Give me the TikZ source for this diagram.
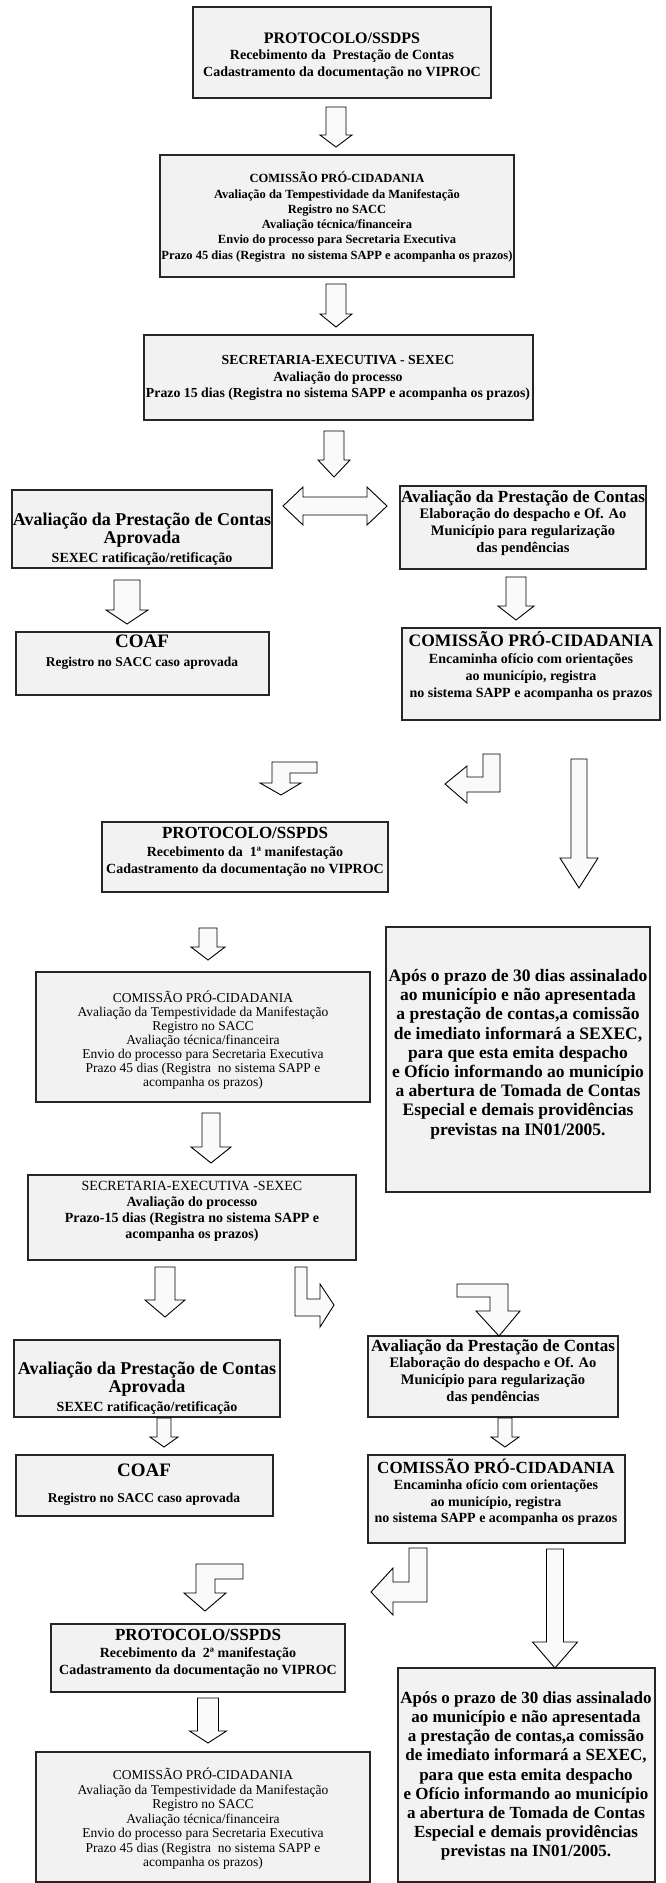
\documentclass[tikz,border=0pt]{standalone}
\usepackage{fontspec}
\setmainfont{Liberation Serif}
\newcommand\mybox[5]{%
  \node[box, minimum width={(#3-#2)*1pt}, minimum height={(#5-#4)*1pt}] (#1) at ({(#2+#3)/2},{(#4+#5)/2}) {};}
% cx ytop ybot stemhalf headhalf headlen
\newcommand\darrow[6]{%
  \draw[barrow] (#1-#4,#2) -- (#1+#4,#2) -- (#1+#4,#3-#6) -- (#1+#5,#3-#6) -- (#1,#3) -- (#1-#5,#3-#6) -- (#1-#4,#3-#6) -- cycle;}
\newcommand\fs[2]{\fontsize{#1}{#2}\selectfont}
\begin{document}
\begin{tikzpicture}[x=1pt,y=-1pt,
  box/.style={draw=black!85, line width=1.4pt, fill=black!5, inner sep=0pt},
  txt/.style={align=center, inner sep=0pt, font=\bfseries},
  barrow/.style={draw=black, line width=0.9pt, fill=black!2, line join=miter}]
\useasboundingbox (0,0) rectangle (665,1883);
\fill[white] (0,0) rectangle (665,1883);

% ---------- boxes ----------
\mybox{b1}{193}{491}{7}{98}
\mybox{b2}{160}{514}{155}{277}
\mybox{b3}{144}{533}{335}{420}
\mybox{b4}{12}{272}{490}{568}
\mybox{b5}{400}{646}{486}{569}
\mybox{b6}{16}{269}{632}{695}
\mybox{b7}{402}{660}{628}{720}
\mybox{b8}{102}{388}{822}{892}
\mybox{b9}{386}{650}{927}{1192}
\mybox{b10}{36}{370}{972}{1102}
\mybox{b11}{28}{356}{1175}{1260}
\mybox{b12}{14}{280}{1340}{1417}
\mybox{b13}{368}{618}{1336}{1417}
\mybox{b14}{16}{273}{1455}{1516}
\mybox{b15}{368}{625}{1455}{1543}
\mybox{b16}{51}{345}{1624}{1692}
\mybox{b17}{36}{370}{1752}{1882}
\mybox{b18}{398}{655}{1668}{1882}

% ---------- texts ----------
\node[txt, font=\bfseries\fs{14}{16.7}] (b1t) at (342,56) {{\fs{16}{16.7}PROTOCOLO/SSDPS}\\Recebimento da\ \ Prestação de Contas\\Cadastramento da documentação no VIPROC};
\node[txt, font=\bfseries\fs{12.5}{15.3}] (b2t) at (337,217) {COMISSÃO PRÓ-CIDADANIA\\Avaliação da Tempestividade da Manifestação\\Registro no SACC\\Avaliação técnica/financeira\\Envio do processo para Secretaria Executiva\\Prazo 45 dias (Registra\ \ no sistema SAPP e acompanha os prazos)};
\node[txt, font=\bfseries\fs{13.8}{16.5}] (b3t) at (338,378) {SECRETARIA-EXECUTIVA - SEXEC\\Avaliação do processo\\Prazo 15 dias (Registra no sistema SAPP e acompanha os prazos)};
\node[txt, font=\bfseries\fs{14}{18.5}] (b4t) at (142,539) {{\fs{18}{18.5}Avaliação da Prestação de Contas}\\{\fs{18}{18.5}Aprovada}\\SEXEC ratificação/retificação};
\node[txt, font=\bfseries\fs{14.5}{16.8}] (b5t) at (523,523) {{\fs{17}{16.8}Avaliação da Prestação de Contas}\\Elaboração do despacho e Of. Ao\\Município para regularização\\das pendências};
\node[txt, font=\bfseries\fs{13.5}{19}] (b6t) at (142,652) {{\fs{19}{19}COAF}\\Registro no SACC caso aprovada};
\node[txt, font=\bfseries\fs{14}{17}] (b7t) at (531,666) {{\fs{17.5}{17}COMISSÃO PRÓ-CIDADANIA}\\Encaminha ofício com orientações\\ao município, registra\\no sistema SAPP e acompanha os prazos};
\node[txt, font=\bfseries\fs{14}{17.5}] (b8t) at (245,852) {{\fs{17}{17.5}PROTOCOLO/SSPDS}\\Recebimento da\ \ 1ª manifestação\\Cadastramento da documentação no VIPROC};
\node[txt, font=\bfseries\fs{17.5}{19.2}] (b9t) at (518,1054) {Após o prazo de 30 dias assinalado\\ao município e não apresentada\\a prestação de contas,a comissão\\de imediato informará a SEXEC,\\para que esta emita despacho\\e Ofício informando ao município\\a abertura de Tomada de Contas\\Especial e demais providências\\previstas na IN01/2005.};
\node[txt, font=\mdseries\fs{13.5}{14}] (b10t) at (203,1040) {COMISSÃO PRÓ-CIDADANIA\\Avaliação da Tempestividade da Manifestação\\Registro no SACC\\Avaliação técnica/financeira\\Envio do processo para Secretaria Executiva\\Prazo 45 dias (Registra\ \ no sistema SAPP e\\acompanha os prazos)};
\node[txt, font=\bfseries\fs{14}{16}] (b11t) at (192,1211) {{\mdseries SECRETARIA-EXECUTIVA -SEXEC}\\Avaliação do processo\\Prazo-15 dias (Registra no sistema SAPP e\\acompanha os prazos)};
\node[txt, font=\bfseries\fs{14}{18.5}] (b12t) at (147,1388) {{\fs{18}{18.5}Avaliação da Prestação de Contas}\\{\fs{18}{18.5}Aprovada}\\SEXEC ratificação/retificação};
\node[txt, font=\bfseries\fs{14.5}{16.8}] (b13t) at (493,1372) {{\fs{17}{16.8}Avaliação da Prestação de Contas}\\Elaboração do despacho e Of. Ao\\Município para regularização\\das pendências};
\node[txt, font=\bfseries\fs{13.5}{26}] (b14t) at (144,1485) {{\fs{19}{26}COAF}\\Registro no SACC caso aprovada};
\node[txt, font=\bfseries\fs{14}{16.5}] (b15t) at (496,1492) {{\fs{17}{16.5}COMISSÃO PRÓ-CIDADANIA}\\Encaminha ofício com orientações\\ao município, registra\\no sistema SAPP e acompanha os prazos};
\node[txt, font=\bfseries\fs{14}{17}] (b16t) at (198,1653) {{\fs{17}{17}PROTOCOLO/SSPDS}\\Recebimento da\ \ 2ª manifestação\\Cadastramento da documentação no VIPROC};
\node[txt, font=\mdseries\fs{13.5}{14.5}] (b17t) at (203,1819) {COMISSÃO PRÓ-CIDADANIA\\Avaliação da Tempestividade da Manifestação\\Registro no SACC\\Avaliação técnica/financeira\\Envio do processo para Secretaria Executiva\\Prazo 45 dias (Registra\ \ no sistema SAPP e\\acompanha os prazos)};
\node[txt, font=\bfseries\fs{17}{19.2}] (b18t) at (526,1776) {Após o prazo de 30 dias assinalado\\ao município e não apresentada\\a prestação de contas,a comissão\\de imediato informará a SEXEC,\\para que esta emita despacho\\e Ofício informando ao município\\a abertura de Tomada de Contas\\Especial e demais providências\\previstas na IN01/2005.};

% ---------- block arrows ----------
\darrow{336}{107}{147}{10}{16}{12}
\darrow{336}{284}{327}{10}{16}{13}
\darrow{334}{431}{477}{10}{16}{17}
\darrow{127}{580}{624}{13}{21}{14}
\darrow{516}{577}{620}{10}{18}{14}
\darrow{579}{759}{888}{8}{19}{30}
\darrow{208}{928}{960}{9}{17}{13}
\darrow{211}{1113}{1163}{9}{20}{16}
\darrow{165}{1267}{1317}{10}{20}{17}
\darrow{164}{1418}{1447}{7}{14}{10}
\darrow{505}{1418}{1447}{7}{14}{10}
\darrow{555}{1549}{1668}{8.5}{22.5}{26}
\darrow{208}{1698}{1743}{10.5}{18.5}{12}
% double arrow
\draw[barrow] (283,506) -- (303,487) -- (303,497) -- (367,497) -- (367,487) -- (387,506) -- (367,525) -- (367,515) -- (303,515) -- (303,525) -- cycle;
% bent arrows
\draw[barrow] (317,762) -- (272,762) -- (272,783) -- (260,783) -- (281,795) -- (301,783) -- (290,783) -- (290,773) -- (317,773) -- cycle;
\draw[barrow] (500,754) -- (483,754) -- (483,777) -- (467,777) -- (467,766) -- (445,784) -- (467,803) -- (467,792) -- (500,792) -- cycle;
\draw[barrow] (295,1267) -- (307,1267) -- (307,1299) -- (320,1299) -- (320,1284) -- (334,1305) -- (320,1327) -- (320,1316) -- (295,1316) -- cycle;
\draw[barrow] (457,1284) -- (508,1284) -- (508,1311) -- (520,1311) -- (499,1336) -- (476,1311) -- (490,1311) -- (490,1297) -- (457,1297) -- cycle;
\draw[barrow] (243,1564) -- (196,1564) -- (196,1593) -- (184,1593) -- (205,1611) -- (226,1593) -- (215,1593) -- (215,1579) -- (243,1579) -- cycle;
\draw[barrow] (427,1548) -- (409,1548) -- (409,1582) -- (393,1582) -- (393,1568) -- (371,1592) -- (393,1615) -- (393,1602) -- (427,1602) -- cycle;
\end{tikzpicture}
\end{document}
